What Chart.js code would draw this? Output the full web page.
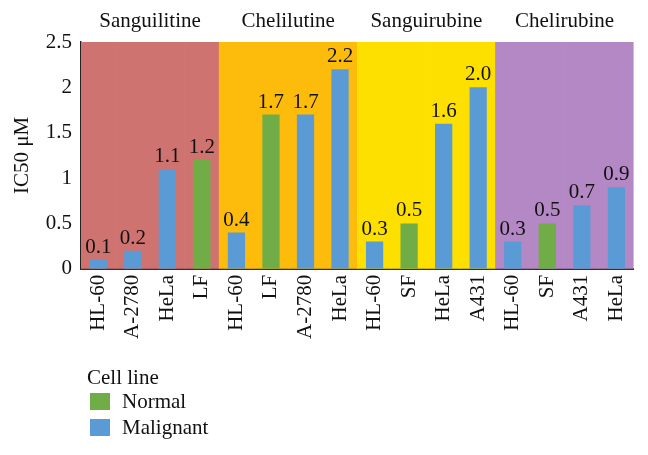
<!DOCTYPE html>
<html>
<head>
<meta charset="utf-8">
<script src="https://cdn.jsdelivr.net/npm/chart.js@4.4.1/dist/chart.umd.min.js"></script>
<style>
    html, body { margin: 0; padding: 0; background: #fff; }
    #wrap { position: relative; width: 648px; height: 455px; font-family: "Liberation Serif", "DejaVu Serif", serif; color: #111; }
    #chart { position: absolute; left: 0; top: 0; }
    .legend-title { position: absolute; left: 87px; top: 365px; font-size: 21px; }
    .legend-item { position: absolute; left: 90px; font-size: 21px; }
    .legend-item span.sw { position: absolute; left: 0; top: 4px; width: 20px; height: 17px; }
    .legend-item span.tx { position: absolute; left: 32px; top: 0; white-space: nowrap; }
</style>
</head>
<body>
<div id="wrap">
    <canvas id="chart" width="648" height="455"></canvas>
    <div class="legend-title">Cell line</div>
    <div class="legend-item" style="top:389px"><span class="sw" style="background:#70ad47"></span><span class="tx">Normal</span></div>
    <div class="legend-item" style="top:415px"><span class="sw" style="background:#5b9bd5"></span><span class="tx">Malignant</span></div>
</div>
<script>
const groups = ['Sanguilitine', 'Chelilutine', 'Sanguirubine', 'Chelirubine'];
const cellLines = ['HL-60', 'A-2780', 'HeLa', 'LF', 'HL-60', 'LF', 'A-2780', 'HeLa',
                   'HL-60', 'SF', 'HeLa', 'A431', 'HL-60', 'SF', 'A431', 'HeLa'];
const ic50 = [0.1, 0.2, 1.1, 1.2, 0.4, 1.7, 1.7, 2.2, 0.3, 0.5, 1.6, 2.0, 0.3, 0.5, 0.7, 0.9];
const isNormal = [0, 0, 0, 1, 0, 1, 0, 0, 0, 1, 0, 0, 0, 1, 0, 0];
const groupOf = [0, 0, 0, 0, 1, 1, 1, 1, 2, 2, 2, 2, 3, 3, 3, 3];
const yTicks = [0, 0.5, 1, 1.5, 2, 2.5];

const groupColors = ['#ce7370', '#fdbb0c', '#fde000', '#b488c4'];
const FONT = '"Liberation Serif", "DejaVu Serif", serif';

// numbers over the bars
const valueLabels = {
    id: 'valueLabels',
    afterDatasetsDraw(chart) {
        const ctx = chart.ctx;
        const meta = chart.getDatasetMeta(1);
        ctx.save();
        ctx.font = '21px ' + FONT;
        ctx.fillStyle = '#111';
        ctx.textAlign = 'center';
        ctx.textBaseline = 'alphabetic';
        meta.data.forEach((bar, i) => {
            ctx.fillText(ic50[i].toFixed(1), bar.x, bar.y - 7);
        });
        ctx.restore();
    }
};

new Chart(document.getElementById('chart'), {
    type: 'bar',
    data: {
        labels: cellLines,
        datasets: [
            {
                label: 'band',
                data: cellLines.map(() => yTicks[yTicks.length - 1]),
                backgroundColor: groupOf.map(g => groupColors[g]),
                barPercentage: 1,
                categoryPercentage: 1,
                grouped: false,
                order: 2
            },
            {
                label: 'IC50',
                data: ic50,
                backgroundColor: isNormal.map(n => n ? '#70ad47' : '#5b9bd5'),
                barPercentage: 0.5,
                categoryPercentage: 1,
                grouped: false,
                order: 1
            }
        ]
    },
    options: {
        responsive: false,
        animation: false,
        layout: { padding: { left: 0, right: 14, top: 0, bottom: 110 } },
        plugins: {
            legend: { display: false },
            tooltip: { enabled: false }
        },
        scales: {
            x: {
                grid: { display: false, drawTicks: false },
                border: { display: true, color: '#333', width: 2 },
                ticks: {
                    color: '#111',
                    font: { family: FONT, size: 21 },
                    minRotation: 90,
                    maxRotation: 90,
                    padding: 6,
                    autoSkip: false
                }
            },
            x2: {
                type: 'category',
                position: 'top',
                labels: groups,
                offset: true,
                grid: { display: false, drawTicks: false },
                border: { display: false },
                ticks: { color: '#111', font: { family: FONT, size: 21 }, padding: 8 },
                afterFit: s => { s.height = 42; }
            },
            y: {
                min: 0,
                max: 2.5,
                afterBuildTicks: s => { s.ticks = yTicks.map(v => ({ value: v })); },
                grid: { display: false, drawTicks: false },
                border: { display: true, color: '#222', width: 1.5 },
                ticks: {
                    color: '#111',
                    font: { family: FONT, size: 21 },
                    padding: 9,
                    callback: v => String(v)
                },
                title: {
                    display: true,
                    text: 'IC50 μM',
                    color: '#111',
                    font: { family: FONT, size: 21 },
                    padding: { top: 10, bottom: 0 }
                },
                afterFit: s => { s.width = 81; }
            }
        }
    },
    plugins: [valueLabels]
});
</script>
</body>
</html>
